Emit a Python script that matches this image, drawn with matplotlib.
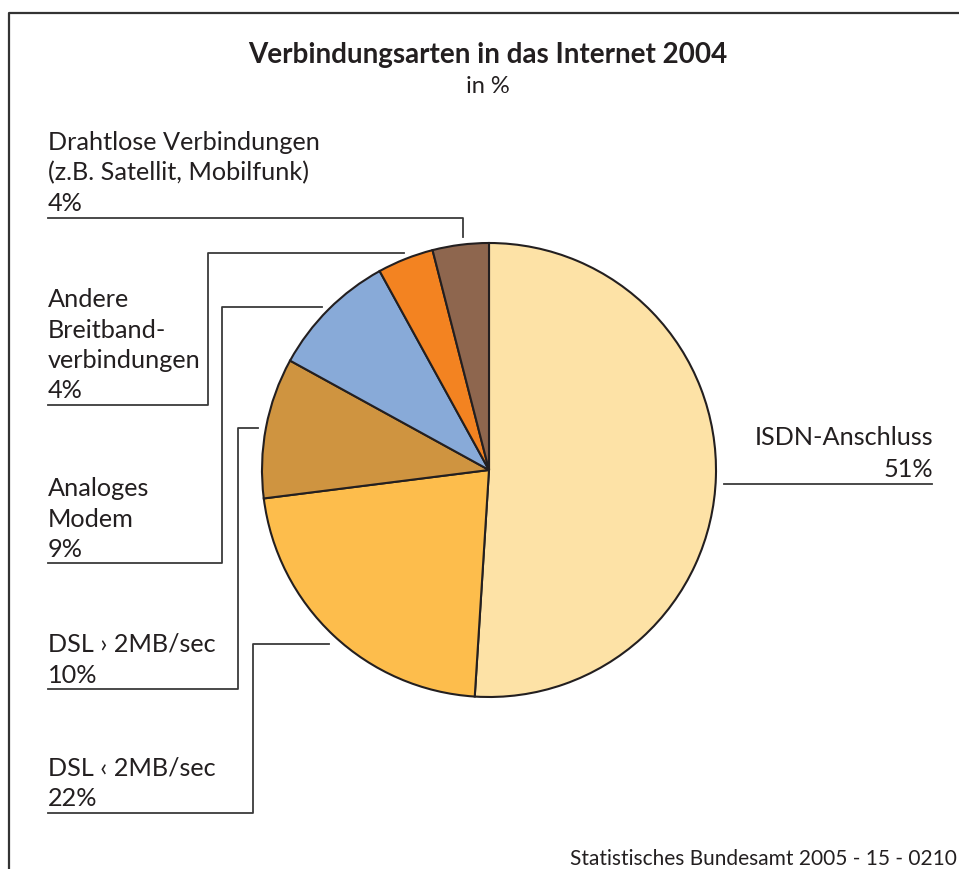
import matplotlib
matplotlib.use("Agg")
import matplotlib.pyplot as plt

# data
labels = ["ISDN-Anschluss", "DSL < 2MB/sec", "DSL > 2MB/sec", "Analoges Modem",
          "Andere Breitbandverbindungen", "Drahtlose Verbindungen"]
shares = [51, 22, 10, 9, 4, 4]
colors = ["#fde2a6", "#fdbd4c", "#cf9440", "#88aad8", "#f38321", "#8e664e"]

label_lines = [
    ["ISDN-Anschluss", "51%"],
    ["DSL \u2039 2MB/sec", "22%"],
    ["DSL \u203a 2MB/sec", "10%"],
    ["Analoges", "Modem", "9%"],
    ["Andere", "Breitband-", "verbindungen", "4%"],
    ["Drahtlose Verbindungen", "(z.B. Satellit, Mobilfunk)", "4%"],
]

TXT = "#231f20"
LN = "#3a3a3a"
FONT = "Lato"

fig = plt.figure(figsize=(9.59, 8.69), dpi=100)
ax = fig.add_axes([0, 0, 1, 1])

# pie in pixel coords (y axis inverted -> start -90 / counterclock gives top + clockwise on screen)
ax.pie(shares, colors=colors, startangle=-90, counterclock=True,
       center=(489, 470), radius=227,
       wedgeprops=dict(edgecolor="#231f20", linewidth=1.5))
ax.set_xlim(0, 959)
ax.set_ylim(869, 0)
ax.set_aspect("equal")
ax.axis("off")

# frame
ax.plot([9, 9, 959], [869, 13, 13], color="#333333", lw=1.6, solid_capstyle="butt")

# title
ax.text(488, 63, "Verbindungsarten in das Internet 2004", ha="center", va="baseline",
        fontsize=20, fontweight="bold", family=FONT, color=TXT)
ax.text(488, 93, "in %", ha="center", va="baseline", fontsize=17, family=FONT, color=TXT)

def block(x, baselines, lines, ha="left"):
    for b, t in zip(baselines, lines):
        ax.text(x, b, t, ha=ha, va="baseline", fontsize=18.2, family=FONT, color=TXT)

# left labels: (baselines, leader path)
left_specs = {
    5: ([150, 180, 211], [(48, 218), (463, 218), (463, 237)]),
    4: ([307, 338, 368, 398], [(48, 405), (208, 405), (208, 253), (404, 253)]),
    3: ([496, 527, 557], [(48, 563), (222, 563), (222, 307), (322, 307)]),
    2: ([652, 683], [(48, 689), (238, 689), (238, 428), (258, 428)]),
    1: ([776, 806], [(48, 813), (253, 813), (253, 644), (329, 644)]),
}
for i, (bl, path) in left_specs.items():
    block(48, bl, label_lines[i])
    xs, ys = zip(*path)
    ax.plot(xs, ys, color=LN, lw=1.3)

# ISDN label on the right
block(933, [445, 477], label_lines[0], ha="right")
ax.plot([724, 932], [484, 484], color=LN, lw=1.3)

# source
ax.text(957, 865, "Statistisches Bundesamt 2005 - 15 - 0210", ha="right", va="baseline",
        fontsize=15, family=FONT, color=TXT)

fig.savefig("out.png", dpi=100)
